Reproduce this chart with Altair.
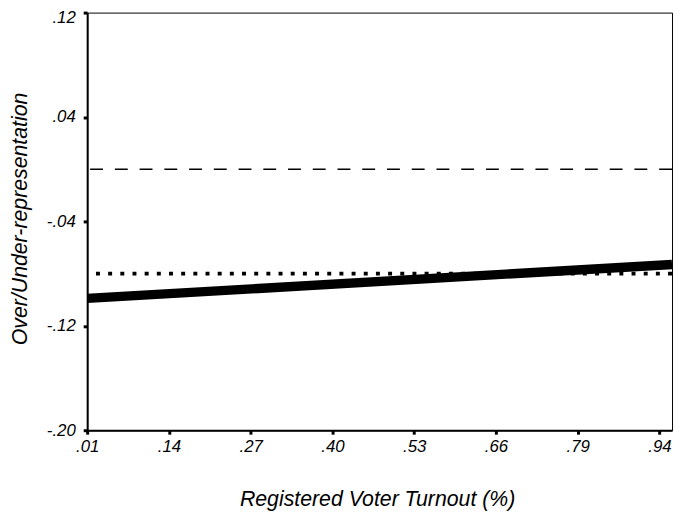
import altair as alt
import pandas as pd

# Data
fit_x = [0.01, 0.94]
fit_y = [-0.099, -0.073]
dotted_level = [-0.080]
dashed_level = [0.0]

x_tick_values = [0.01, 0.14, 0.27, 0.40, 0.53, 0.66, 0.79, 0.92]
x_tick_labels = [".01", ".14", ".27", ".40", ".53", ".66", ".79", ".94"]
y_tick_values = [-0.20, -0.12, -0.04, 0.04, 0.12]

FONT = "Liberation Sans"
LABEL_SIZE = 17
TITLE_SIZE = 21.5

fit_df = pd.DataFrame({"x": fit_x, "y": fit_y})
dot_df = pd.DataFrame({"y": dotted_level})
dash_df = pd.DataFrame({"y": dashed_level})

label_arr = "[" + ",".join("'%s'" % s for s in x_tick_labels) + "]"
x_label_expr = label_arr + "[round((datum.value - 0.01) / 0.13)]"
y_label_expr = "(datum.value < 0 ? '-' : '') + replace(format(abs(datum.value), '.2f'), '0.', '.')"

x_scale = alt.Scale(domain=[0.01, 0.94], nice=False, zero=False)
y_scale = alt.Scale(domain=[-0.20, 0.12], nice=False, zero=False)

x_axis = alt.Axis(
    title="Registered Voter Turnout (%)",
    values=x_tick_values,
    labelExpr=x_label_expr,
    grid=False,
    domainColor="black", domainWidth=2,
    tickColor="black", tickSize=4, tickWidth=3,
    labelFont=FONT, labelFontSize=LABEL_SIZE, labelFontStyle="italic", labelColor="black",
    labelPadding=5, labelFlush=False, labelOverlap=False,
    titleFont=FONT, titleFontSize=TITLE_SIZE, titleFontStyle="italic", titleFontWeight="normal",
    titleColor="black", titleX=293, titleY=76, titleBaseline="alphabetic",
)
y_axis = alt.Axis(
    title="Over/Under-representation",
    values=y_tick_values,
    labelExpr=y_label_expr,
    grid=False,
    domainColor="black", domainWidth=2,
    tickColor="black", tickSize=4, tickWidth=3,
    labelFont=FONT, labelFontSize=LABEL_SIZE, labelFontStyle="italic", labelColor="black",
    labelPadding=8, labelFlush=False, labelOverlap=False,
    labelOffset={"condition": {"test": "datum.value > 0.1", "value": 5}, "value": 0},
    titleFont=FONT, titleFontSize=TITLE_SIZE, titleFontStyle="italic", titleFontWeight="normal",
    titleColor="black", titleX=-61, titleY=208, titleBaseline="alphabetic", titleAngle=270,
)

dashed = alt.Chart(dash_df).mark_rule(
    color="black", strokeWidth=1.5, strokeDash=[13, 12]
).encode(y=alt.Y("y:Q", scale=y_scale, axis=y_axis))

dotted = alt.Chart(dot_df).mark_rule(
    color="black", strokeWidth=4, strokeDash=[4, 8.3], strokeCap="butt"
).encode(y=alt.Y("y:Q", scale=y_scale, axis=y_axis))

fit = alt.Chart(fit_df).mark_line(
    color="black", strokeWidth=9.5, strokeCap="butt"
).encode(
    x=alt.X("x:Q", scale=x_scale, axis=x_axis),
    y=alt.Y("y:Q", scale=y_scale, axis=y_axis),
)

chart = alt.layer(dashed, dotted, fit).properties(
    width=591,
    height=422,
    background="white",
    autosize=alt.AutoSizeParams(type="none"),
    padding={"left": 80, "top": 2, "right": 2, "bottom": 80},
).configure_view(
    stroke="black", strokeWidth=1
).configure_axis(
    labelFontSize=LABEL_SIZE, labelFont=FONT, labelFontStyle="italic"
)

chart.save("out.html", embed_options={"renderer": "svg", "actions": False})
